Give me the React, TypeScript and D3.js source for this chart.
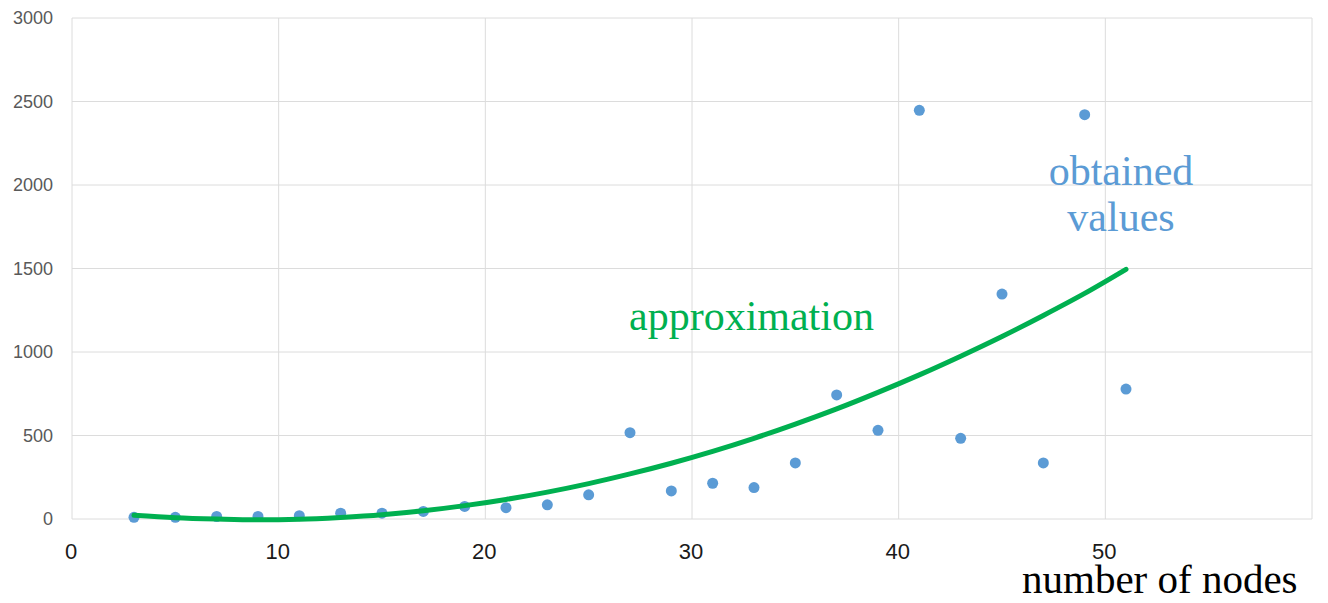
import React from 'react';
import * as d3 from 'd3';

// measured points (number of nodes -> value)
const nodes = [3, 5, 7, 9, 11, 13, 15, 17, 19, 21, 23, 25, 27, 29, 31, 33, 35, 37, 39, 41, 43, 45, 47, 49, 51];
const obtained = [10, 10, 15, 15, 20, 35, 35, 45, 75, 68, 85, 145, 517, 168, 214, 188, 336, 743, 531, 2447, 483, 1347, 336, 2421, 778];
// approximation curve
const approx = [22, 8, 0, -5, -2, 9, 25, 49, 80, 117, 161, 212, 270, 334, 405, 483, 568, 659, 758, 863, 975, 1093, 1219, 1351, 1495];
const xTicks = [0, 10, 20, 30, 40, 50];
const xGrid = [0, 10, 20, 30, 40, 50, 60];
const yTicks = [0, 500, 1000, 1500, 2000, 2500, 3000];

export default function App() {
  const width = 1328;
  const height = 603;
  const x = d3.scaleLinear().domain([0, 60]).range([72, 1312]);
  const y = d3.scaleLinear().domain([0, 3000]).range([519, 18]);

  const line = d3.line<number>()
    .x((d, i) => x(nodes[i]))
    .y(d => y(d))
    .curve(d3.curveMonotoneX);

  return (
    <svg width={width} height={height} style={{ position: 'absolute', left: 0, top: 0, background: '#fff' }}>
      {yTicks.map(t => (
        <line key={'gy' + t} x1={72} x2={1312} y1={y(t)} y2={y(t)} stroke="#dcdcdc" strokeWidth={1} />
      ))}
      {xGrid.map(t => (
        <line key={'gx' + t} x1={x(t)} x2={x(t)} y1={18} y2={519} stroke="#dcdcdc" strokeWidth={1} />
      ))}
      {yTicks.map(t => (
        <text key={'ly' + t} x={53} y={y(t)} dy="0.35em" textAnchor="end"
          fontFamily="'Liberation Sans', Arial, sans-serif" fontSize={18} fill="#595959">{t}</text>
      ))}
      {xTicks.map(t => (
        <text key={'lx' + t} x={x(t) - 1} y={559} textAnchor="middle"
          fontFamily="'Liberation Sans', Arial, sans-serif" fontSize={22} fill="#1a1a1a">{t}</text>
      ))}
      {nodes.map((n, i) => (
        <circle key={'p' + n} cx={x(n)} cy={y(obtained[i])} r={5.5} fill="#5b9bd5" />
      ))}
      <path d={line(approx) || ''} fill="none" stroke="#00b050" strokeWidth={5} strokeLinecap="round" />
      <text x={629} y={330} fontFamily="'Liberation Serif', 'Times New Roman', serif" fontSize={42} fill="#00b050">approximation</text>
      <text x={1121} y={185} textAnchor="middle" fontFamily="'Liberation Serif', 'Times New Roman', serif" fontSize={42} fill="#5b9bd5">obtained</text>
      <text x={1121} y={231} textAnchor="middle" fontFamily="'Liberation Serif', 'Times New Roman', serif" fontSize={42} fill="#5b9bd5">values</text>
      <text x={1022} y={593} fontFamily="'Liberation Serif', 'Times New Roman', serif" fontSize={41} fill="#000">number of nodes</text>
    </svg>
  );
}
